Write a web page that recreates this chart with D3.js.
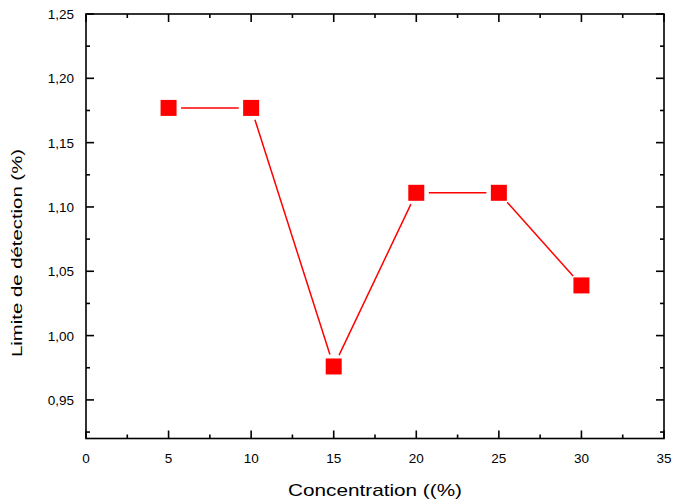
<!DOCTYPE html>
<html><head><meta charset="utf-8">
<script src="https://cdn.jsdelivr.net/npm/d3@7"></script>
<style>body{margin:0;background:#fff;} text{font-family:"Liberation Sans",Arial,sans-serif;}</style>
</head><body><svg id="c" width="675" height="499"></svg>
<script>
const concentrations = [5, 10, 15, 20, 25, 30];
const detectionLimits = [1.177, 1.177, 0.976, 1.111, 1.111, 1.039];
const xTicks = [0, 5, 10, 15, 20, 25, 30, 35];
const yTicks = [0.95, 1.00, 1.05, 1.10, 1.15, 1.20, 1.25];
const xMinor = [2.5, 7.5, 12.5, 17.5, 22.5, 27.5, 32.5];
const yMinor = [0.925, 0.975, 1.025, 1.075, 1.125, 1.175, 1.225];

const L = 86, R = 664, T = 14, B = 438.5;
const svg = d3.select("#c");
const x = d3.scaleLinear().domain([0, 35]).range([L, R]);
const y = d3.scaleLinear().domain([0.92, 1.25]).range([B, T]);
const fmt = d => d3.format(".2f")(d).replace(".", ",");

svg.append("rect").attr("x", L).attr("y", T).attr("width", R - L).attr("height", B - T)
  .attr("fill", "none").attr("stroke", "#000").attr("stroke-width", 1.6);

function tickLines(vals, len, axis) {
  vals.forEach(v => {
    if (axis === "x") {
      svg.append("line").attr("x1", x(v)).attr("x2", x(v)).attr("y1", B).attr("y2", B - len).attr("stroke", "#000").attr("stroke-width", 1.6);
      svg.append("line").attr("x1", x(v)).attr("x2", x(v)).attr("y1", T).attr("y2", T + len).attr("stroke", "#000").attr("stroke-width", 1.6);
    } else {
      svg.append("line").attr("y1", y(v)).attr("y2", y(v)).attr("x1", L).attr("x2", L + len).attr("stroke", "#000").attr("stroke-width", 1.6);
      svg.append("line").attr("y1", y(v)).attr("y2", y(v)).attr("x1", R).attr("x2", R - len).attr("stroke", "#000").attr("stroke-width", 1.6);
    }
  });
}
tickLines(xTicks, 8, "x");
tickLines(xMinor, 4, "x");
tickLines(yTicks, 8, "y");
tickLines(yMinor, 4, "y");

svg.selectAll(".xl").data(xTicks).enter().append("text")
  .attr("x", d => x(d)).attr("y", 463).attr("text-anchor", "middle")
  .attr("font-size", 13.5).attr("fill", "#000").text(d => d);
svg.selectAll(".yl").data(yTicks).enter().append("text")
  .attr("x", 74).attr("y", d => y(d) + 5).attr("text-anchor", "end")
  .attr("font-size", 13.5).attr("fill", "#000").text(fmt);

svg.append("text").attr("x", 288).attr("y", 496)
  .attr("font-size", 17).attr("textLength", 174).attr("lengthAdjust", "spacingAndGlyphs")
  .attr("fill", "#000").text("Concentration ((%)");
svg.append("text").attr("transform", `translate(22,357) rotate(-90)`)
  .attr("font-size", 15).attr("textLength", 208).attr("lengthAdjust", "spacingAndGlyphs")
  .attr("fill", "#000").text("Limite de détection (%)");

const pts = concentrations.map((c, i) => [x(c), y(detectionLimits[i])]);
const gap = 12.5;
for (let i = 0; i < pts.length - 1; i++) {
  const [x1, y1] = pts[i], [x2, y2] = pts[i + 1];
  const dx = x2 - x1, dy = y2 - y1, d = Math.hypot(dx, dy);
  const ux = dx / d, uy = dy / d;
  svg.append("line").attr("x1", x1 + ux * gap).attr("y1", y1 + uy * gap)
    .attr("x2", x2 - ux * gap).attr("y2", y2 - uy * gap)
    .attr("stroke", "#ff0000").attr("stroke-width", 1.5);
}
const s = 16;
svg.selectAll(".m").data(pts).enter().append("rect")
  .attr("x", d => d[0] - s / 2).attr("y", d => d[1] - s / 2)
  .attr("width", s).attr("height", s).attr("fill", "#ff0000");
</script></body></html>
